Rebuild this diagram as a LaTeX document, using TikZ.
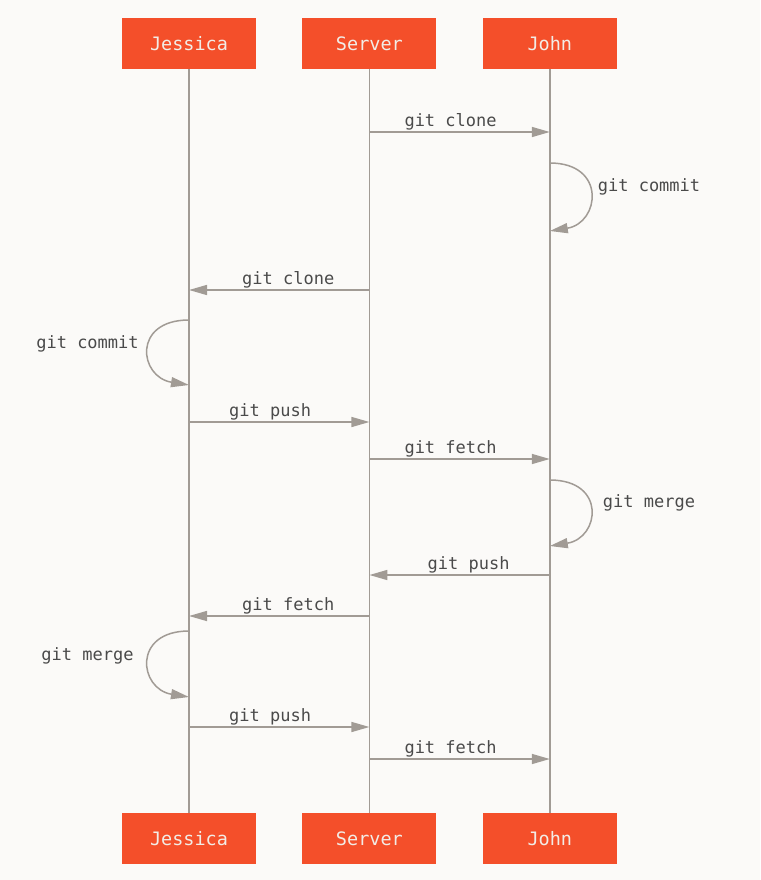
\documentclass[tikz,border=0pt]{standalone}
\usepackage{fontspec}
\setmonofont{DejaVu Sans Mono}
\usetikzlibrary{arrows.meta,positioning}
\definecolor{gitOrange}{HTML}{F44F2A}
\definecolor{gitBoxText}{HTML}{F2ECE6}
\definecolor{gitLine}{HTML}{A19B95}
\definecolor{gitText}{HTML}{4A4A4A}
\definecolor{gitPaper}{HTML}{FBFAF8}
\tikzset{
  actor/.style={fill=gitOrange, text=gitBoxText, minimum width=134pt, minimum height=51pt,
    inner sep=0pt, font=\ttfamily\fontsize{18.5}{20}\selectfont},
  life/.style={draw=gitLine, line width=1.5pt},
  msg/.style={draw=gitLine, line width=1.5pt, -{Triangle[length=18pt,width=10pt]}},
  lbl/.style={text=gitText, inner sep=1pt, font=\ttfamily\fontsize{17}{19}\selectfont}
}
\begin{document}
\begin{tikzpicture}[x=1pt, y=-1pt]
% paper
\fill[gitPaper] (0,0) rectangle (760,880);
\useasboundingbox (0,0) rectangle (760,880);
% actors on top
\node[actor] (jesTop) at (189,43.5) {Jessica};
\node[actor, right=46pt of jesTop] (srvTop) {Server};
\node[actor, right=46pt of srvTop] (jonTop) {John};
% actors at the bottom
\node[actor, below=744pt of jesTop] (jesBot) {Jessica};
\node[actor, below=744pt of srvTop] (srvBot) {Server};
\node[actor, below=744pt of jonTop] (jonBot) {John};
% life lines
\draw[life] (jesTop) -- (jesBot);
\draw[life] (srvTop) -- (srvBot);
\draw[life] (jonTop) -- (jonBot);
% points on the life lines
\coordinate (srv1) at (srvTop |- 0,132);
\coordinate (jon1) at (jonTop |- 0,132);
\coordinate (jon2) at (jonTop |- 0,163);
\coordinate (jon3) at (jonTop |- 0,231);
\coordinate (srv4) at (srvTop |- 0,290);
\coordinate (jes4) at (jesTop |- 0,290);
\coordinate (jes5) at (jesTop |- 0,320);
\coordinate (jes6) at (jesTop |- 0,385);
\coordinate (jes7) at (jesTop |- 0,422);
\coordinate (srv7) at (srvTop |- 0,422);
\coordinate (srv8) at (srvTop |- 0,459);
\coordinate (jon8) at (jonTop |- 0,459);
\coordinate (jon9) at (jonTop |- 0,480);
\coordinate (jon10) at (jonTop |- 0,546);
\coordinate (jon11) at (jonTop |- 0,575);
\coordinate (srv11) at (srvTop |- 0,575);
\coordinate (srv12) at (srvTop |- 0,616);
\coordinate (jes12) at (jesTop |- 0,616);
\coordinate (jes13) at (jesTop |- 0,631);
\coordinate (jes14) at (jesTop |- 0,697);
\coordinate (jes15) at (jesTop |- 0,727);
\coordinate (srv15) at (srvTop |- 0,727);
\coordinate (srv16) at (srvTop |- 0,759);
\coordinate (jon16) at (jonTop |- 0,759);
% messages
\draw[msg] (srv1) -- node[lbl, pos=0.45, above] {git clone} (jon1);
\draw[msg] (jon2) .. controls +(57,0) and +(50,-8) .. (jon3);
\node[lbl] (jonCommit) at (649,187) {git commit};
\draw[msg] (srv4) -- node[lbl, pos=0.45, above] {git clone} (jes4);
\draw[msg] (jes5) .. controls +(-57,0) and +(-50,-8) .. (jes6);
\node[lbl] (jesCommit) at (87.5,344) {git commit};
\draw[msg] (jes7) -- node[lbl, pos=0.45, above] {git push} (srv7);
\draw[msg] (srv8) -- node[lbl, pos=0.45, above] {git fetch} (jon8);
\draw[msg] (jon9) .. controls +(57,0) and +(50,-8) .. (jon10);
\node[lbl] (jonMerge) at (649,503) {git merge};
\draw[msg] (jon11) -- node[lbl, pos=0.45, above] {git push} (srv11);
\draw[msg] (srv12) -- node[lbl, pos=0.45, above] {git fetch} (jes12);
\draw[msg] (jes13) .. controls +(-57,0) and +(-50,-8) .. (jes14);
\node[lbl] (jesMerge) at (87.5,656) {git merge};
\draw[msg] (jes15) -- node[lbl, pos=0.45, above] {git push} (srv15);
\draw[msg] (srv16) -- node[lbl, pos=0.45, above] {git fetch} (jon16);
\end{tikzpicture}
\end{document}
